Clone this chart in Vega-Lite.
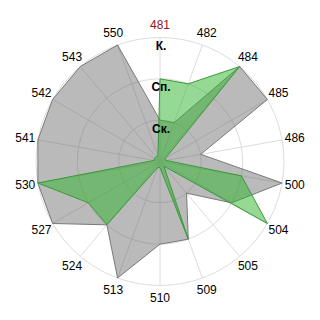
{
  "$schema": "https://vega.github.io/schema/vega-lite/v6.json",
  "width": 320,
  "height": 320,
  "padding": 0,
  "autosize": "none",
  "background": "white",
  "config": {"view": {"stroke": null}},
  "datasets": {
    "cats": [
      {"cat": "481", "gray": 1, "green": 2},
      {"cat": "482", "gray": 1, "green": 2},
      {"cat": "484", "gray": 3, "green": 3},
      {"cat": "485", "gray": 3, "green": 0.15},
      {"cat": "486", "gray": 1, "green": 0.15},
      {"cat": "500", "gray": 3, "green": 2},
      {"cat": "504", "gray": 2, "green": 3},
      {"cat": "505", "gray": 1, "green": 0.15},
      {"cat": "509", "gray": 2, "green": 2},
      {"cat": "510", "gray": 2, "green": 0.15},
      {"cat": "513", "gray": 3, "green": 0.15},
      {"cat": "524", "gray": 2, "green": 2},
      {"cat": "527", "gray": 3, "green": 2},
      {"cat": "530", "gray": 3, "green": 3},
      {"cat": "541", "gray": 3, "green": 0.15},
      {"cat": "542", "gray": 3, "green": 0.15},
      {"cat": "543", "gray": 3, "green": 0.15},
      {"cat": "550", "gray": 3, "green": 0.15}
    ],
    "levels": [
      {"level": 1, "label": "Ск."},
      {"level": 2, "label": "Сп."},
      {"level": 3, "label": "К."}
    ]
  },
  "layer": [
    {
      "data": {"name": "levels"},
      "transform": [{"calculate": "0", "as": "o"}],
      "mark": {"type": "point", "shape": "circle", "filled": false, "stroke": "#dcdcdc", "strokeWidth": 1, "opacity": 1},
      "encoding": {
        "x": {"field": "o", "type": "quantitative", "scale": {"domain": [-3.871, 3.871], "nice": false, "zero": false}, "axis": null},
        "y": {"field": "o", "type": "quantitative", "scale": {"domain": [-3.835, 3.907], "nice": false, "zero": false}, "axis": null},
        "size": {"field": "level", "type": "quantitative", "scale": {"type": "pow", "exponent": 2, "domain": [0, 3], "range": [0, 61504]}, "legend": null}
      }
    },
    {
      "data": {"name": "cats"},
      "transform": [
        {"window": [{"op": "row_number", "as": "idx"}]},
        {"calculate": "(datum.idx - 1) * PI / 9", "as": "a"},
        {"calculate": "3 * sin(datum.a)", "as": "sx"},
        {"calculate": "3 * cos(datum.a)", "as": "sy"},
        {"calculate": "0", "as": "o"}
      ],
      "mark": {"type": "rule", "stroke": "#dcdcdc", "strokeWidth": 1},
      "encoding": {
        "x": {"field": "o", "type": "quantitative"},
        "y": {"field": "o", "type": "quantitative"},
        "x2": {"field": "sx"},
        "y2": {"field": "sy"}
      }
    },
    {
      "data": {"name": "cats"},
      "transform": [
        {"window": [{"op": "row_number", "as": "idx"}]},
        {"calculate": "(datum.idx - 1) * PI / 9", "as": "a"},
        {"calculate": "datum.gray * sin(datum.a)", "as": "px"},
        {"calculate": "datum.gray * cos(datum.a)", "as": "py"}
      ],
      "mark": {"type": "line", "interpolate": "linear-closed", "fill": "#666666", "fillOpacity": 0.45, "stroke": "#7a7a7a", "strokeWidth": 1},
      "encoding": {
        "x": {"field": "px", "type": "quantitative"},
        "y": {"field": "py", "type": "quantitative"},
        "order": {"field": "idx", "type": "quantitative"}
      }
    },
    {
      "data": {"name": "cats"},
      "transform": [
        {"window": [{"op": "row_number", "as": "idx"}]},
        {"calculate": "(datum.idx - 1) * PI / 9", "as": "a"},
        {"calculate": "datum.green * sin(datum.a)", "as": "px"},
        {"calculate": "datum.green * cos(datum.a)", "as": "py"}
      ],
      "mark": {"type": "line", "interpolate": "linear-closed", "fill": "#2cb42c", "fillOpacity": 0.5, "stroke": "#3a9a3a", "strokeWidth": 1},
      "encoding": {
        "x": {"field": "px", "type": "quantitative"},
        "y": {"field": "py", "type": "quantitative"},
        "order": {"field": "idx", "type": "quantitative"}
      }
    },
    {
      "data": {"name": "cats"},
      "transform": [
        {"window": [{"op": "row_number", "as": "idx"}]},
        {"calculate": "(datum.idx - 1) * PI / 9", "as": "a"},
        {"calculate": "3.31 * sin(datum.a)", "as": "lx"},
        {"calculate": "3.31 * cos(datum.a)", "as": "ly"}
      ],
      "mark": {"type": "text", "font": "Liberation Sans", "fontSize": 12, "align": "center", "baseline": "middle"},
      "encoding": {
        "x": {"field": "lx", "type": "quantitative"},
        "y": {"field": "ly", "type": "quantitative"},
        "text": {"field": "cat", "type": "nominal"},
        "color": {"condition": {"test": "datum.cat === '481'", "value": "#8b1a1a"}, "value": "#000000"}
      }
    },
    {
      "data": {"name": "levels"},
      "transform": [{"calculate": "0", "as": "o"}],
      "mark": {"type": "text", "font": "Liberation Sans", "fontSize": 12, "fontWeight": "bold", "align": "center", "baseline": "middle", "dy": 8.5, "dx": 1, "color": "#000000"},
      "encoding": {
        "x": {"field": "o", "type": "quantitative"},
        "y": {"field": "level", "type": "quantitative"},
        "text": {"field": "label", "type": "nominal"}
      }
    }
  ]
}
